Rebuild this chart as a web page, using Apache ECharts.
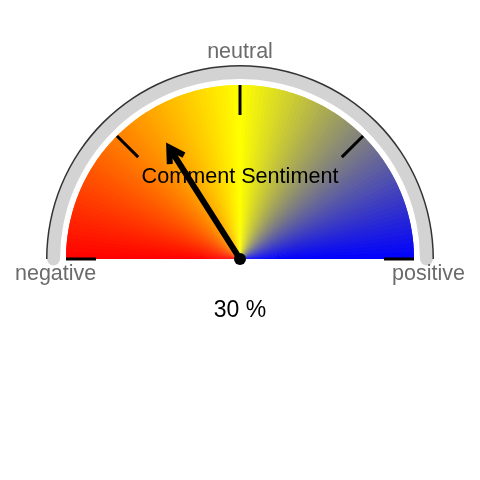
<!DOCTYPE html>
<html><head><meta charset="utf-8">
<script src="https://cdn.jsdelivr.net/npm/echarts@6/dist/echarts.min.js"></script>
<style>html,body{margin:0;padding:0;background:#fff}#c{width:480px;height:480px}</style>
</head><body><div id="c"></div>
<script>
// ---- data ----
const scaleMin = 0;
const scaleMax = 100;
const tickLabels = ['negative', 'neutral', 'positive'];
const sentimentValue = [30];      // value printed under the gauge
const needleValue = [32];         // position the needle points at in the picture
const chartTitle = ['Comment Sentiment'];
const gradientColors = [[255, 0, 0], [255, 255, 0], [0, 0, 255]];

// ---- style helpers ----
const FONT = '"Liberation Sans", Arial, Helvetica, sans-serif';
const CENTER = [240, 259];
const N = 120;
function colorAt(t) {
  t = Math.max(0, Math.min(1, t));
  const seg = t < 0.5 ? 0 : 1;
  const s = t < 0.5 ? t * 2 : (t - 0.5) * 2;
  const a = gradientColors[seg], b = gradientColors[seg + 1];
  const c = a.map((v, i) => Math.round(v + (b[i] - v) * s));
  return 'rgb(' + c.join(',') + ')';
}
// two layers of colour segments, the upper one offset by half a segment to hide seams
const fanStopsA = [];
for (let i = 0; i < N; i++) fanStopsA.push([(i + 1) / N, colorAt((i + 0.5) / N)]);
const fanStopsB = [[0.5 / N, colorAt(0)]];
for (let i = 0; i < N - 1; i++) fanStopsB.push([(i + 1.5) / N, colorAt((i + 1) / N)]);
fanStopsB.push([1, colorAt(1)]);

const needlePath = 'path://M12 0 L23 19 L17.8 22 L15 17.2 L15 140 L9 140 L9 17.2 L6.2 22 L1 19 Z';

const base = {
  type: 'gauge', center: CENTER, startAngle: 180, endAngle: 0,
  min: scaleMin, max: scaleMax, animation: false,
  axisTick: { show: false }, splitLine: { show: false }, axisLabel: { show: false },
  pointer: { show: false }, anchor: { show: false }, title: { show: false }, detail: { show: false }
};

const chart = echarts.init(document.getElementById('c'), null, { renderer: 'canvas' });
chart.setOption({
  backgroundColor: '#ffffff',
  animation: false,
  series: [
    Object.assign({}, base, {
      z: 1, radius: 193,
      axisLine: { roundCap: true, lineStyle: { width: 13, color: [[1, '#d3d3d3']] } },
      data: []
    }),
    Object.assign({}, base, {
      z: 1, radius: 194,
      axisLine: { lineStyle: { width: 1.5, color: [[1, '#333333']] } },
      data: []
    }),
    Object.assign({}, base, {
      z: 2, radius: 174,
      axisLine: { lineStyle: { width: 174, color: fanStopsA } },
      data: []
    }),
    Object.assign({}, base, {
      z: 2.5, radius: 174,
      axisLine: { lineStyle: { width: 174, color: fanStopsB } },
      title: { show: true, offsetCenter: [0, -82], fontSize: 21.6, color: '#000', fontFamily: FONT },
      detail: { show: true, offsetCenter: [0, 52], fontSize: 23, color: '#000', fontFamily: FONT,
                fontWeight: 'normal', formatter: '{value} %' },
      data: [{ value: sentimentValue[0], name: chartTitle[0] }]
    }),
    Object.assign({}, base, {
      z: 3, radius: 193, splitNumber: 2,
      axisLine: { show: false, lineStyle: { width: 0 } },
      splitLine: { show: false, length: 0, distance: 0 },
      axisLabel: {
        show: true, distance: -32, color: '#6b6b6b', fontSize: 21.5, fontFamily: FONT,
        formatter: function (v) {
          const idx = Math.round((v - scaleMin) / (scaleMax - scaleMin) * 2);
          return idx === 1 ? '{n|' + tickLabels[idx] + '}' : '{s|' + tickLabels[idx] + '}';
        },
        rich: {
          s: { fontSize: 21.5, color: '#6b6b6b', fontFamily: FONT, padding: [31, 0, 0, 0] },
          n: { fontSize: 21.5, color: '#6b6b6b', fontFamily: FONT, padding: [7, 0, 0, 0] }
        }
      },
      data: []
    }),
    Object.assign({}, base, {
      z: 4, radius: 174, splitNumber: 4,
      axisLine: { show: false, lineStyle: { width: 0 } },
      splitLine: { show: true, length: 30, distance: 0, lineStyle: { width: 3, color: '#000' } },
      pointer: { show: true, icon: needlePath, length: 138, width: 22, itemStyle: { color: '#000' } },
      anchor: { show: true, showAbove: true, size: 12, itemStyle: { color: '#000' } },
      data: [{ value: needleValue[0] }]
    })
  ]
});
</script>
</body></html>
